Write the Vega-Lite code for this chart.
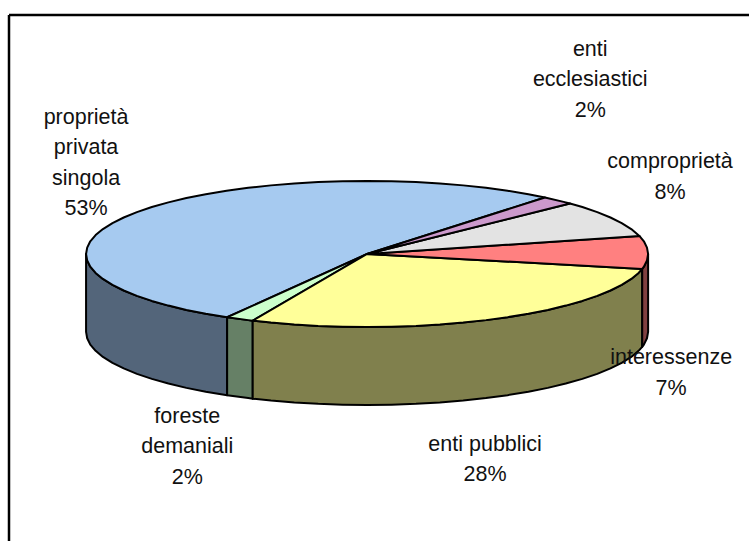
{
"$schema":"https://vega.github.io/schema/vega-lite/v6.json",
"width":740.5,"height":526.5,"autosize":"none","padding":{"left":8.5,"top":14.5,"right":0,"bottom":0},
"background":"white","view":{"stroke":null},
"datasets":{
"wall":[
{"s":"blue","x":-1,"y":0,"yb":-1.068},{"s":"blue","x":-0.996,"y":-0.087,"yb":-1.155},{"s":"blue","x":-0.985,"y":-0.174,"yb":-1.242},{"s":"blue","x":-0.966,"y":-0.259,"yb":-1.327},{"s":"blue","x":-0.94,"y":-0.342,"yb":-1.41},{"s":"blue","x":-0.906,"y":-0.423,"yb":-1.491},{"s":"blue","x":-0.866,"y":-0.5,"yb":-1.568},{"s":"blue","x":-0.819,"y":-0.574,"yb":-1.642},{"s":"blue","x":-0.766,"y":-0.643,"yb":-1.711},{"s":"blue","x":-0.707,"y":-0.707,"yb":-1.775},{"s":"blue","x":-0.643,"y":-0.766,"yb":-1.834},{"s":"blue","x":-0.574,"y":-0.819,"yb":-1.887},{"s":"blue","x":-0.498,"y":-0.867,"yb":-1.935},
{"s":"green","x":-0.498,"y":-0.867,"yb":-1.935},{"s":"green","x":-0.423,"y":-0.906,"yb":-1.974},{"s":"green","x":-0.407,"y":-0.914,"yb":-1.982},
{"s":"yellow","x":-0.407,"y":-0.914,"yb":-1.982},{"s":"yellow","x":-0.342,"y":-0.94,"yb":-2.008},{"s":"yellow","x":-0.259,"y":-0.966,"yb":-2.034},{"s":"yellow","x":-0.174,"y":-0.985,"yb":-2.053},{"s":"yellow","x":-0.087,"y":-0.996,"yb":-2.064},{"s":"yellow","x":0,"y":-1,"yb":-2.068},{"s":"yellow","x":0.087,"y":-0.996,"yb":-2.064},{"s":"yellow","x":0.174,"y":-0.985,"yb":-2.053},{"s":"yellow","x":0.259,"y":-0.966,"yb":-2.034},{"s":"yellow","x":0.342,"y":-0.94,"yb":-2.008},{"s":"yellow","x":0.423,"y":-0.906,"yb":-1.974},{"s":"yellow","x":0.5,"y":-0.866,"yb":-1.934},{"s":"yellow","x":0.574,"y":-0.819,"yb":-1.887},{"s":"yellow","x":0.643,"y":-0.766,"yb":-1.834},{"s":"yellow","x":0.707,"y":-0.707,"yb":-1.775},{"s":"yellow","x":0.766,"y":-0.643,"yb":-1.711},{"s":"yellow","x":0.819,"y":-0.574,"yb":-1.642},{"s":"yellow","x":0.866,"y":-0.5,"yb":-1.568},{"s":"yellow","x":0.906,"y":-0.423,"yb":-1.491},{"s":"yellow","x":0.94,"y":-0.342,"yb":-1.41},{"s":"yellow","x":0.966,"y":-0.259,"yb":-1.327},{"s":"yellow","x":0.979,"y":-0.204,"yb":-1.272},
{"s":"red","x":0.979,"y":-0.204,"yb":-1.272},{"s":"red","x":0.985,"y":-0.174,"yb":-1.242},{"s":"red","x":0.996,"y":-0.087,"yb":-1.155},{"s":"red","x":1,"y":0,"yb":-1.068}
],
"top":[
{"s":"blue","i":0,"x":0,"y":0},{"s":"blue","i":1,"x":0.633,"y":0.774},{"s":"blue","i":2,"x":0.574,"y":0.819},{"s":"blue","i":3,"x":0.5,"y":0.866},{"s":"blue","i":4,"x":0.423,"y":0.906},{"s":"blue","i":5,"x":0.342,"y":0.94},{"s":"blue","i":6,"x":0.259,"y":0.966},{"s":"blue","i":7,"x":0.174,"y":0.985},{"s":"blue","i":8,"x":0.087,"y":0.996},{"s":"blue","i":9,"x":0,"y":1},{"s":"blue","i":10,"x":-0.087,"y":0.996},{"s":"blue","i":11,"x":-0.174,"y":0.985},{"s":"blue","i":12,"x":-0.259,"y":0.966},{"s":"blue","i":13,"x":-0.342,"y":0.94},{"s":"blue","i":14,"x":-0.423,"y":0.906},{"s":"blue","i":15,"x":-0.5,"y":0.866},{"s":"blue","i":16,"x":-0.574,"y":0.819},{"s":"blue","i":17,"x":-0.643,"y":0.766},{"s":"blue","i":18,"x":-0.707,"y":0.707},{"s":"blue","i":19,"x":-0.766,"y":0.643},{"s":"blue","i":20,"x":-0.819,"y":0.574},{"s":"blue","i":21,"x":-0.866,"y":0.5},{"s":"blue","i":22,"x":-0.906,"y":0.423},{"s":"blue","i":23,"x":-0.94,"y":0.342},{"s":"blue","i":24,"x":-0.966,"y":0.259},{"s":"blue","i":25,"x":-0.985,"y":0.174},{"s":"blue","i":26,"x":-0.996,"y":0.087},{"s":"blue","i":27,"x":-1,"y":0},{"s":"blue","i":28,"x":-0.996,"y":-0.087},{"s":"blue","i":29,"x":-0.985,"y":-0.174},{"s":"blue","i":30,"x":-0.966,"y":-0.259},{"s":"blue","i":31,"x":-0.94,"y":-0.342},{"s":"blue","i":32,"x":-0.906,"y":-0.423},{"s":"blue","i":33,"x":-0.866,"y":-0.5},{"s":"blue","i":34,"x":-0.819,"y":-0.574},{"s":"blue","i":35,"x":-0.766,"y":-0.643},{"s":"blue","i":36,"x":-0.707,"y":-0.707},{"s":"blue","i":37,"x":-0.643,"y":-0.766},{"s":"blue","i":38,"x":-0.574,"y":-0.819},{"s":"blue","i":39,"x":-0.498,"y":-0.867},{"s":"blue","i":40,"x":0,"y":0},
{"s":"green","i":0,"x":0,"y":0},{"s":"green","i":1,"x":-0.498,"y":-0.867},{"s":"green","i":2,"x":-0.423,"y":-0.906},{"s":"green","i":3,"x":-0.407,"y":-0.914},{"s":"green","i":4,"x":0,"y":0},
{"s":"yellow","i":0,"x":0,"y":0},{"s":"yellow","i":1,"x":-0.407,"y":-0.914},{"s":"yellow","i":2,"x":-0.342,"y":-0.94},{"s":"yellow","i":3,"x":-0.259,"y":-0.966},{"s":"yellow","i":4,"x":-0.174,"y":-0.985},{"s":"yellow","i":5,"x":-0.087,"y":-0.996},{"s":"yellow","i":6,"x":0,"y":-1},{"s":"yellow","i":7,"x":0.087,"y":-0.996},{"s":"yellow","i":8,"x":0.174,"y":-0.985},{"s":"yellow","i":9,"x":0.259,"y":-0.966},{"s":"yellow","i":10,"x":0.342,"y":-0.94},{"s":"yellow","i":11,"x":0.423,"y":-0.906},{"s":"yellow","i":12,"x":0.5,"y":-0.866},{"s":"yellow","i":13,"x":0.574,"y":-0.819},{"s":"yellow","i":14,"x":0.643,"y":-0.766},{"s":"yellow","i":15,"x":0.707,"y":-0.707},{"s":"yellow","i":16,"x":0.766,"y":-0.643},{"s":"yellow","i":17,"x":0.819,"y":-0.574},{"s":"yellow","i":18,"x":0.866,"y":-0.5},{"s":"yellow","i":19,"x":0.906,"y":-0.423},{"s":"yellow","i":20,"x":0.94,"y":-0.342},{"s":"yellow","i":21,"x":0.966,"y":-0.259},{"s":"yellow","i":22,"x":0.979,"y":-0.204},{"s":"yellow","i":23,"x":0,"y":0},
{"s":"red","i":0,"x":0,"y":0},{"s":"red","i":1,"x":0.979,"y":-0.204},{"s":"red","i":2,"x":0.985,"y":-0.174},{"s":"red","i":3,"x":0.996,"y":-0.087},{"s":"red","i":4,"x":1,"y":0},{"s":"red","i":5,"x":0.996,"y":0.087},{"s":"red","i":6,"x":0.985,"y":0.174},{"s":"red","i":7,"x":0.969,"y":0.247},{"s":"red","i":8,"x":0,"y":0},
{"s":"gray","i":0,"x":0,"y":0},{"s":"gray","i":1,"x":0.969,"y":0.247},{"s":"gray","i":2,"x":0.94,"y":0.342},{"s":"gray","i":3,"x":0.906,"y":0.423},{"s":"gray","i":4,"x":0.866,"y":0.5},{"s":"gray","i":5,"x":0.819,"y":0.574},{"s":"gray","i":6,"x":0.766,"y":0.643},{"s":"gray","i":7,"x":0.722,"y":0.692},{"s":"gray","i":8,"x":0,"y":0},
{"s":"pink","i":0,"x":0,"y":0},{"s":"pink","i":1,"x":0.722,"y":0.692},{"s":"pink","i":2,"x":0.707,"y":0.707},{"s":"pink","i":3,"x":0.633,"y":0.774},{"s":"pink","i":4,"x":0,"y":0}
],
"labels":[
{"label":"enti\necclesiastici\n2%","share":2,"x":0.794,"y":2.795},
{"label":"comproprietà\n8%","share":8,"x":1.078,"y":1.26},
{"label":"proprietà\nprivata\nsingola\n53%","share":53,"x":-1.0,"y":1.868},
{"label":"interessenze\n7%","share":7,"x":1.082,"y":-1.425},
{"label":"enti pubblici\n28%","share":28,"x":0.42,"y":-2.616},
{"label":"foreste\ndemaniali\n2%","share":2,"x":-0.64,"y":-2.233}
]
},
"encoding":{
"x":{"field":"x","type":"quantitative","scale":{"domain":[-1.276,1.359]},
"axis":{"orient":"top","title":null,"labels":false,"ticks":false,"grid":false,"domain":true,"domainColor":"#000","domainWidth":2.5}},
"y":{"field":"y","type":"quantitative","scale":{"domain":[-3.932,3.281]},
"axis":{"orient":"left","title":null,"labels":false,"ticks":false,"grid":false,"domain":true,"domainColor":"#000","domainWidth":2.5}}
},
"layer":[
{"data":{"name":"wall"},
 "mark":{"type":"area","stroke":"#000","strokeWidth":2,"strokeJoin":"round"},
 "encoding":{"y2":{"field":"yb"},
 "fill":{"field":"s","type":"nominal","legend":null,"scale":{"domain":["blue","green","yellow","red"],"range":["#53657A","#668066","#80804D","#804040"]}},"opacity":{"value":1}}},
{"data":{"name":"top"},
 "mark":{"type":"line","stroke":"#000","strokeWidth":2,"strokeJoin":"round","fill":"#000"},
 "encoding":{"order":{"field":"i","type":"quantitative"},"detail":{"field":"s"},
 "fill":{"field":"s","type":"nominal","legend":null,"scale":{"domain":["blue","green","yellow","red","gray","pink"],"range":["#A6CAF0","#CCFFCC","#FFFF99","#FF8080","#E3E3E3","#CC99CC"]}}}},
{"data":{"name":"labels"},
 "mark":{"type":"text","font":"Liberation Sans","fontSize":21.5,"lineBreak":"\n","lineHeight":30.5,"align":"center","baseline":"middle","color":"#111"},
 "encoding":{"text":{"field":"label"}}}
],
"resolve":{"scale":{"fill":"independent"}}
}
